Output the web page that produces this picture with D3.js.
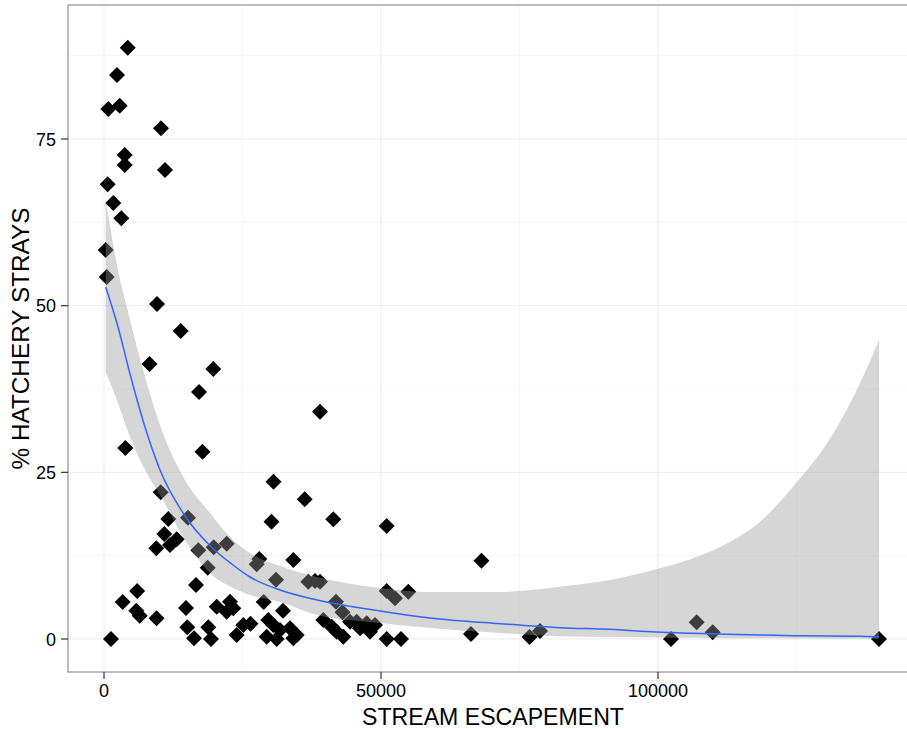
<!DOCTYPE html>
<html>
<head>
<meta charset="utf-8">
<script src="https://cdn.jsdelivr.net/npm/d3@7"></script>
<style>
  body { margin: 0; background: #fff; }
  text { font-family: "Liberation Sans", Arial, sans-serif; }
</style>
</head>
<body>
<script>
// stream escapement vs % hatchery strays
const escapement = [4280, 2347, 776, 2834, 10289, 3736, 3736, 11011, 668, 1679,
  3123, 307, 487, 9567, 13845, 8213, 19729, 17148, 3845, 17780,
  38989, 30596, 36228, 41390, 51029, 68141, 10235, 11606, 15162, 30235,
  10885, 13123, 11913, 9440, 17022, 19801, 22148, 28032, 27563, 34170,
  18718, 31047, 16606, 5993, 3375, 5830, 6444, 9477, 14801, 20343,
  22744, 22148, 23339, 28827, 15036, 16245, 18827, 19314, 23953, 25144,
  26444, 1264, 36877, 38087, 38989, 41877, 43050, 51029, 52527, 54928,
  32310, 29657, 30559, 31769, 33574, 34783, 29368, 31173, 34170, 39585,
  41101, 42004, 43195, 44404, 45614, 47418, 48917, 46209, 48014, 51029,
  53610, 66245, 76805, 78700, 102346, 106985, 109873, 139891];
const strays = [88.7, 84.6, 79.5, 80.0, 76.6, 72.6, 71.1, 70.35, 68.2, 65.4,
  63.1, 58.35, 54.3, 50.25, 46.2, 41.25, 40.5, 37.05, 28.65, 28.1,
  34.1, 23.6, 20.95, 17.95, 16.95, 11.75, 22.0, 18.0, 18.2, 17.6,
  15.75, 14.95, 14.1, 13.6, 13.3, 13.77, 14.3, 12.0, 11.2, 11.85,
  10.7, 8.9, 8.1, 7.2, 5.55, 4.25, 3.5, 3.1, 4.65, 4.85,
  5.6, 4.1, 4.6, 5.55, 1.75, 0.1, 1.75, 0, 0.6, 2.1,
  2.3, 0, 8.6, 8.7, 8.6, 5.6, 4.0, 7.2, 6.1, 7.1,
  4.25, 2.85, 2.1, 1.35, 1.6, 0.6, 0.35, 0, 0.1, 2.85,
  1.85, 1.1, 0.35, 2.6, 2.6, 2.35, 2.1, 1.6, 1.1, 0,
  0, 0.75, 0.3, 1.2, 0, 2.5, 1.0, 0];

// smoother and its confidence band
const smoothX = [300, 2527, 4693, 7400, 10108, 14620, 19133, 23285, 26350, 31765,
  38447, 49819, 58844, 71479, 82308, 91333, 99636, 106315, 112452, 118408,
  124364, 130502, 136458, 139891];
const smoothFit = [52.8, 46.8, 39.75, 31.8, 25.35, 18.45, 14.0, 11.1, 9.3, 7.35,
  5.85, 4.2, 3.15, 2.3, 1.7, 1.45, 1.05, 0.85, 0.7, 0.6,
  0.5, 0.45, 0.4, 0.35];
const smoothHi = [65.85, 55.35, 47.85, 39.3, 32.1, 23.85, 18.9, 14.85, 12.9, 10.95,
  9.3, 7.65, 7.05, 7.05, 7.85, 8.85, 10.45, 12.1, 14.35, 17.6,
  22.85, 29.35, 38.35, 44.85];
const smoothLo = [40.05, 35.4, 30.3, 25.35, 21.6, 14.85, 9.9, 7.65, 6.6, 5.55,
  3.6, 2.4, 1.65, 0.9, 0.4, 0.3, 0.22, 0.17, 0.12, 0.1,
  0.07, 0.05, 0.03, 0.02];

const xTicks = [0, 50000, 100000];
const xMinor = [25000, 75000, 125000];
const yTicks = [0, 25, 50, 75];
const yMinor = [12.5, 37.5, 62.5, 87.5];

const xTitle = 'STREAM ESCAPEMENT';
const yTitle = '% HATCHERY STRAYS';

window.addEventListener('load', function() {
  const width = 907, height = 729;
  const panel = { left: 68, right: 918, top: 5, bottom: 672 };

  const svg = d3.select('body').append('svg')
    .attr('width', width)
    .attr('height', height);

  const x = d3.scaleLinear().domain([-6500, 146930]).range([panel.left, panel.right]);
  const y = d3.scaleLinear().domain([-4.95, 95.1]).range([panel.bottom, panel.top]);

  svg.append('defs').append('clipPath')
    .attr('id', 'panel-clip')
    .append('rect')
    .attr('x', panel.left)
    .attr('y', panel.top)
    .attr('width', panel.right - panel.left)
    .attr('height', panel.bottom - panel.top);

  const plot = svg.append('g').attr('clip-path', 'url(#panel-clip)');

  // grid, minor first
  plot.selectAll('.vminor').data(xMinor).enter().append('line')
    .attr('x1', d => x(d)).attr('x2', d => x(d))
    .attr('y1', panel.top).attr('y2', panel.bottom)
    .attr('stroke', '#f7f7f7').attr('stroke-width', 1.2);
  plot.selectAll('.hminor').data(yMinor).enter().append('line')
    .attr('x1', panel.left).attr('x2', panel.right)
    .attr('y1', d => y(d)).attr('y2', d => y(d))
    .attr('stroke', '#f7f7f7').attr('stroke-width', 1.2);
  plot.selectAll('.vmajor').data(xTicks).enter().append('line')
    .attr('x1', d => x(d)).attr('x2', d => x(d))
    .attr('y1', panel.top).attr('y2', panel.bottom)
    .attr('stroke', '#ebebeb').attr('stroke-width', 1);
  plot.selectAll('.hmajor').data(yTicks).enter().append('line')
    .attr('x1', panel.left).attr('x2', panel.right)
    .attr('y1', d => y(d)).attr('y2', d => y(d))
    .attr('stroke', '#ebebeb').attr('stroke-width', 1);

  // points (drawn under the band, like the original)
  const r = 8;
  const diamond = 'M0,' + (-r) + 'L' + r + ',0L0,' + r + 'L' + (-r) + ',0Z';
  plot.selectAll('.pt').data(escapement).enter().append('path')
    .attr('d', diamond)
    .attr('transform', (d, i) => 'translate(' + x(d) + ',' + y(strays[i]) + ')')
    .attr('fill', '#000');

  const band = smoothX.map((d, i) => ({ x: d, lo: smoothLo[i], hi: smoothHi[i], fit: smoothFit[i] }));

  plot.append('path')
    .datum(band)
    .attr('d', d3.area()
      .x(d => x(d.x))
      .y0(d => y(d.lo))
      .y1(d => y(d.hi))
      .curve(d3.curveMonotoneX))
    .attr('fill', '#999999')
    .attr('fill-opacity', 0.4);

  plot.append('path')
    .datum(band)
    .attr('d', d3.line()
      .x(d => x(d.x))
      .y(d => y(d.fit))
      .curve(d3.curveMonotoneX))
    .attr('fill', 'none')
    .attr('stroke', '#3366ff')
    .attr('stroke-width', 1.5);

  // panel border
  svg.append('rect')
    .attr('x', panel.left)
    .attr('y', panel.top)
    .attr('width', panel.right - panel.left)
    .attr('height', panel.bottom - panel.top)
    .attr('fill', 'none')
    .attr('stroke', '#a6a6a6')
    .attr('stroke-width', 1.5);

  // axes
  const xAxis = svg.append('g');
  xAxis.selectAll('line').data(xTicks).enter().append('line')
    .attr('x1', d => x(d)).attr('x2', d => x(d))
    .attr('y1', panel.bottom).attr('y2', panel.bottom + 7)
    .attr('stroke', '#333').attr('stroke-width', 1.2);
  xAxis.selectAll('text').data(xTicks).enter().append('text')
    .attr('x', d => x(d))
    .attr('y', 697)
    .attr('text-anchor', 'middle')
    .attr('font-size', 18)
    .attr('fill', '#000')
    .text(d => d);

  const yAxis = svg.append('g');
  yAxis.selectAll('line').data(yTicks).enter().append('line')
    .attr('x1', panel.left - 7).attr('x2', panel.left)
    .attr('y1', d => y(d)).attr('y2', d => y(d))
    .attr('stroke', '#333').attr('stroke-width', 1.2);
  yAxis.selectAll('text').data(yTicks).enter().append('text')
    .attr('x', panel.left - 12)
    .attr('y', d => y(d) + 6.5)
    .attr('text-anchor', 'end')
    .attr('font-size', 18)
    .attr('fill', '#000')
    .text(d => d);

  svg.append('text')
    .attr('x', (panel.left + panel.right) / 2)
    .attr('y', 725)
    .attr('text-anchor', 'middle')
    .attr('font-size', 23)
    .attr('textLength', 262)
    .attr('lengthAdjust', 'spacingAndGlyphs')
    .text(xTitle);

  svg.append('text')
    .attr('transform', 'translate(29,' + (panel.top + panel.bottom) / 2 + ') rotate(-90)')
    .attr('text-anchor', 'middle')
    .attr('font-size', 23)
    .attr('textLength', 262)
    .attr('lengthAdjust', 'spacingAndGlyphs')
    .text(yTitle);
});
</script>
</body>
</html>
